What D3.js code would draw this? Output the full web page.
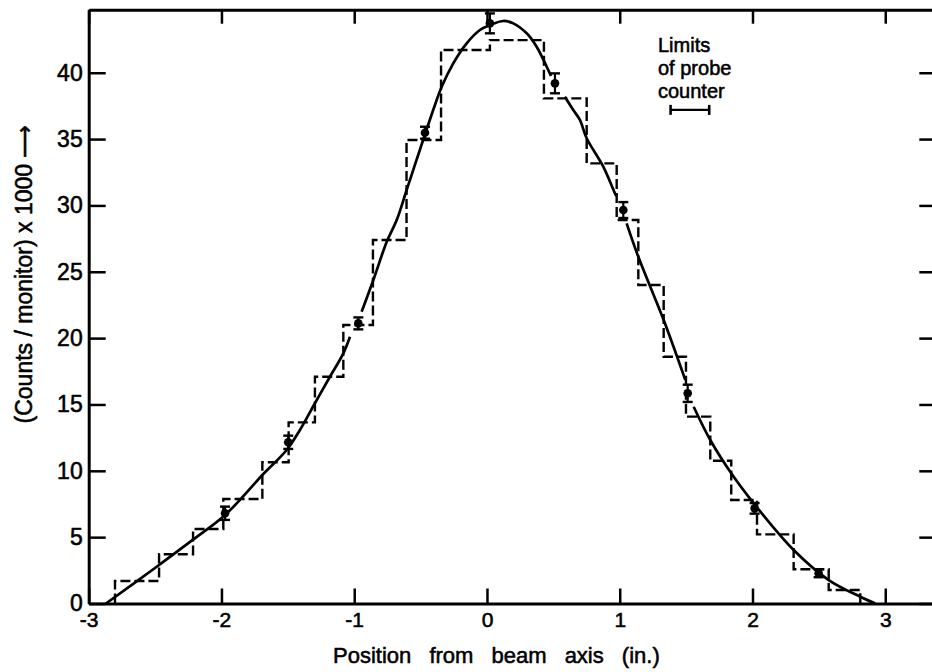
<!DOCTYPE html>
<html><head><meta charset="utf-8">
<script src="https://cdn.jsdelivr.net/npm/d3@7"></script>
<style>
html,body{margin:0;padding:0;background:#fff;}
svg{display:block;font-family:"Liberation Sans",Arial,sans-serif;}
svg text{stroke:#000;stroke-width:0.55px;fill:#000;}
</style></head><body>
<svg id="chart" width="932" height="672"></svg>
<script>
// ---- data ----
const xTicks = [-3, -2, -1, 0, 1, 2, 3];
const yTicks = [0, 5, 10, 15, 20, 25, 30, 35, 40];

// histogram (dashed steps): bin edges and heights
const binEdges = [-2.802, -2.47, -2.214, -1.986, -1.692, -1.494, -1.296, -1.082, -0.859, -0.606,
                  -0.346, 0.022, 0.429, 0.751, 0.977, 1.14, 1.331, 1.499, 1.682, 1.84, 2.034, 2.31, 2.574, 2.812];
const binValues = [1.70, 3.71, 5.61, 7.87, 10.64, 13.65, 17.09, 20.99, 27.39, 34.93, 41.71,
                   42.46, 38.07, 33.17, 28.9, 24.0, 18.6, 14.08, 10.76, 7.8, 5.21, 2.58, 1.02];

// smooth fitted curve (null = break in the line near a data point)
const curveX = [-2.870, -2.488, -2.217, -1.973, -1.692, -1.509, -1.409, -1.296, -1.183, -1.082, -1.032, -0.99,
                -0.944, -0.856, -0.755, -0.680, -0.605, -0.405, -0.341, -0.254, -0.153, -0.053, 0.022, 0.123,
                0.198, 0.299, 0.374, 0.450, 0.482, 0.53, 0.587, 0.65, 0.700, 0.751, 0.876, 0.964, 0.975, 1.01,
                1.052, 1.14, 1.331, 1.494, 1.52, 1.557, 1.682, 1.84, 2.009, 2.31, 2.574, 2.812, 2.925];
const curveY = [0, 2.77, 4.79, 6.67, 9.68, 11.57, 13.08, 15.09, 17.09, 18.85, 20.1, null,
                21.99, 24.38, 27.26, 28.9, 31.16, 37.19, 38.94, 40.71, 42.22, 43.22, 43.59, 43.9,
                43.72, 42.97, 41.96, 40.45, 39.75, null, 38.19, 37.19, 36.44, 35.06, 32.92, 30.91, 30.7, null,
                28.65, 26.13, 21.36, 16.84, null, 14.83, 12.32, 9.81, 7.55, 4.03, 1.77, 0.51, 0];

// measured points with error bars
const pointX = [-1.973, -1.497, -0.969, -0.467, 0.022, 0.512, 1.027, 1.512, 2.016, 2.498];
const pointY = [6.8, 12.15, 21.11, 35.48, 43.72, 39.2, 29.65, 15.84, 7.17, 2.28];
const pointErr = [0.5, 0.5, 0.45, 0.45, 0.75, 0.75, 0.6, 0.65, 0.4, 0.3];

// annotation
const probeLimits = [1.383, 1.674];
const probeLevel = 37.2;
const noteLines = ["Limits", "of probe", "counter"];
const xTitle = "Position from beam axis (in.)";
const yTitle = "(Counts / monitor) x 1000 \u27F6";

// ---- scales ----
const svg = d3.select("#chart");
const x = d3.scaleLinear().domain([-3, 3.377]).range([88.7, 935.3]);
const y = d3.scaleLinear().domain([0, 44.75]).range([603.5, 9.7]);
const fmt = d => String(d);

// ---- axes ----
function styleAxis(g) {
  g.select(".domain").attr("stroke", "#000").attr("stroke-width", 3);
  g.selectAll(".tick line").attr("stroke", "#000").attr("stroke-width", 2.5);
  g.selectAll(".tick text").attr("fill", "#000");
}
svg.append("g").attr("transform", `translate(0,${y(0)})`)
  .call(d3.axisBottom(x).tickValues(xTicks).tickFormat(fmt).tickSizeInner(-15).tickSizeOuter(0).tickPadding(9))
  .call(styleAxis)
  .call(g => g.selectAll(".tick text").attr("font-size", 21).attr("font-family", "Liberation Sans, Arial, sans-serif"));
svg.append("g").attr("transform", `translate(0,${y(44.75)})`)
  .call(d3.axisTop(x).tickValues(xTicks).tickFormat("").tickSizeInner(-14).tickSizeOuter(0))
  .call(styleAxis);
svg.append("g").attr("transform", `translate(${x(-3)},0)`)
  .call(d3.axisLeft(y).tickValues(yTicks).tickFormat(fmt).tickSizeInner(-17).tickSizeOuter(0).tickPadding(6))
  .call(styleAxis)
  .call(g => g.selectAll(".tick text").attr("font-size", 23).attr("font-family", "Liberation Sans, Arial, sans-serif"));
svg.append("g").attr("transform", `translate(${x(3.377)},0)`)
  .call(d3.axisRight(y).tickValues(yTicks).tickFormat("").tickSizeInner(-16).tickSizeOuter(0))
  .call(styleAxis);

// ---- histogram ----
const stepPts = [[binEdges[0], 0]];
binValues.forEach((v, i) => { stepPts.push([binEdges[i], v]); stepPts.push([binEdges[i + 1], v]); });
stepPts.push([binEdges[binEdges.length - 1], 0]);
svg.append("path")
  .attr("d", d3.line().x(d => x(d[0])).y(d => y(d[1]))(stepPts))
  .attr("fill", "none").attr("stroke", "#000").attr("stroke-width", 2.4)
  .attr("stroke-dasharray", "10,4");

// ---- curve ----
const curvePts = curveX.map((cx, i) => [cx, curveY[i]]);
svg.append("path")
  .attr("d", d3.line().defined(d => d[1] !== null).x(d => x(d[0])).y(d => y(d[1]))
    .curve(d3.curveCatmullRom.alpha(0.5))(curvePts))
  .attr("fill", "none").attr("stroke", "#000").attr("stroke-width", 2.7);

// ---- points with error bars ----
const pts = pointX.map((px, i) => ({ x: px, y: pointY[i], e: pointErr[i] }));
const pg = svg.append("g").attr("stroke", "#000").attr("stroke-width", 2.2);
pts.forEach(p => {
  pg.append("line").attr("x1", x(p.x)).attr("x2", x(p.x)).attr("y1", y(p.y - p.e)).attr("y2", y(p.y + p.e));
  [p.y - p.e, p.y + p.e].forEach(v => {
    pg.append("line").attr("x1", x(p.x) - 5).attr("x2", x(p.x) + 5).attr("y1", y(v)).attr("y2", y(v)).attr("stroke-width", 2.4);
  });
  pg.append("circle").attr("cx", x(p.x)).attr("cy", y(p.y)).attr("r", 4.3).attr("fill", "#000").attr("stroke", "none");
});

// ---- annotation ----
const noteY = [52, 75, 98];
noteLines.forEach((t, i) => {
  svg.append("text").attr("font-size", 20).attr("x", 658).attr("y", noteY[i]).text(t);
});
const ag = svg.append("g").attr("stroke", "#000").attr("stroke-width", 2.2);
ag.append("line").attr("x1", x(probeLimits[0])).attr("x2", x(probeLimits[1])).attr("y1", y(probeLevel)).attr("y2", y(probeLevel));
probeLimits.forEach(v => {
  ag.append("line").attr("x1", x(v)).attr("x2", x(v)).attr("y1", y(probeLevel) - 5).attr("y2", y(probeLevel) + 5).attr("stroke-width", 2.6);
});

// ---- titles ----
svg.append("text").attr("x", 333).attr("y", 663).attr("font-size", 22)
  .attr("word-spacing", 12).text(xTitle);
svg.append("text").attr("transform", "translate(32,274) rotate(-90)").attr("text-anchor", "middle")
  .attr("font-size", 23).text(yTitle);
</script>
</body></html>
